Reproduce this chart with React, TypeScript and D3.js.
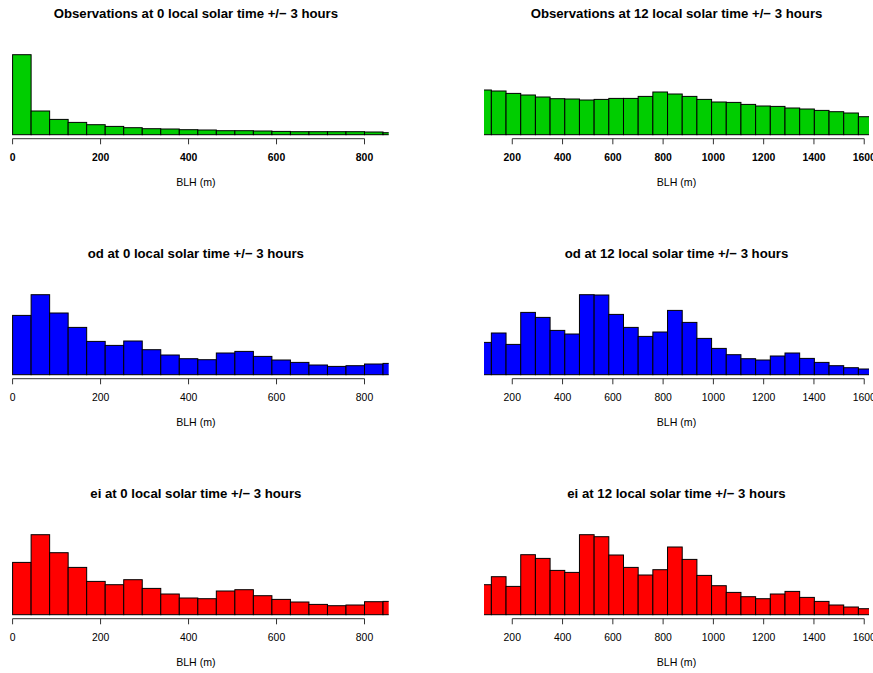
import React from "react";
import * as d3 from "d3";

// Bin layout of the two BLH histograms
const nightBinWidth = 800 / 19;
const noonBinWidth = 58.4;
const noonFirstBin = 1; // index of the first bin shown on the noon panels

const nightTicks = [0, 200, 400, 600, 800];
const noonTicks = [200, 400, 600, 800, 1000, 1200, 1400, 1600];

// Bar heights (relative frequency) per bin
const obsNight = [80, 23.7, 15.3, 12.3, 10, 8.3, 7, 6, 5.7, 5, 4.7, 4, 4, 3.7, 3.3, 3, 3, 3, 3, 2.7, 2];
const obsNoon = [44.7, 43.7, 41.3, 39.7, 37.7, 36, 35.7, 34.7, 35.3, 36.3, 36.3, 38.3, 42.7, 40.7, 38.3, 35.3, 32.7, 32.3, 30.3, 28.7, 28.3, 26.7, 25.7, 24.3, 23, 21.7, 18];
const odNight = [59.3, 80, 61.7, 47.3, 33.3, 29.3, 33.7, 25, 19.7, 16, 15, 21.7, 23.3, 18.3, 14.7, 12.3, 9.7, 8.3, 9, 10.7, 11.3];
const odNoon = [32.3, 41.7, 30.3, 62.3, 57.3, 44.3, 40.7, 80, 79.7, 60.3, 47.3, 38.3, 42.7, 64.3, 52.3, 36.3, 26.3, 20, 16, 14.7, 18.7, 21.7, 16.3, 12.3, 9, 7, 5.7];
const eiNight = [52.3, 80, 62, 47.3, 33.3, 30, 35, 26.3, 20.7, 16.7, 16, 23.7, 25, 19, 15.3, 12.7, 10.3, 9, 9.7, 13, 13.3];
const eiNoon = [30, 38, 28.3, 60, 56.3, 44.3, 42.3, 80, 78, 59.7, 47.3, 39.7, 45, 67.7, 55.3, 39.3, 29, 22.3, 18, 16, 20.7, 23.3, 17.3, 13.3, 9.7, 7.7, 6];

const sources = ["Observations", "od", "ei"];
const sourceColors = ["#00cd00", "#0000ff", "#ff0000"];
const yMax = 80;

type Panel = {
  title: string;
  values: number[];
  binWidth: number;
  firstBin: number;
  ticks: number[];
  domain: [number, number];
  range: [number, number];
  color: string;
  boldTicks: boolean;
};

const FONT = "'Liberation Sans', Arial, Helvetica, sans-serif";

function Histogram({ p, top, id }: { p: Panel; top: number; id: string }) {
  const x = d3.scaleLinear().domain(p.domain).range(p.range);
  const y = d3.scaleLinear().domain([0, yMax]).range([top + 134.7, top + 54.7]);
  const cx = (p.range[0] + p.range[1]) / 2;
  const axisY = top + 138.7;
  return (
    <g>
      <defs>
        <clipPath id={id}>
          <rect x={p.range[0]} y={top} width={p.range[1] - p.range[0]} height={200} />
        </clipPath>
      </defs>
      <text x={cx} y={top + 18.3} textAnchor="middle" fontFamily={FONT} fontWeight="bold" fontSize={13.2}>
        {p.title}
      </text>
      <g clipPath={`url(#${id})`}>
        {p.values.map((v, i) => {
          const x0 = (p.firstBin + i) * p.binWidth;
          const x1 = x0 + p.binWidth;
          return (
            <rect
              key={i}
              x={x(x0)}
              y={y(v)}
              width={x(x1) - x(x0)}
              height={y(0) - y(v)}
              fill={p.color}
              stroke="#000"
              strokeWidth={1}
            />
          );
        })}
      </g>
      <line
        x1={x(p.ticks[0])}
        x2={x(p.ticks[p.ticks.length - 1])}
        y1={axisY}
        y2={axisY}
        stroke="#333"
        strokeWidth={1}
      />
      {p.ticks.map((t) => (
        <g key={t}>
          <line x1={x(t)} x2={x(t)} y1={axisY} y2={axisY + 5.6} stroke="#333" strokeWidth={1} />
          <text
            x={x(t)}
            y={top + 160.6}
            textAnchor="middle"
            fontFamily={FONT}
            fontSize={10.4}
            fontWeight={p.boldTicks ? "bold" : "normal"}
          >
            {t}
          </text>
        </g>
      ))}
      <text x={cx} y={top + 185.5} textAnchor="middle" fontFamily={FONT} fontSize={10.6}>
        BLH (m)
      </text>
    </g>
  );
}

export default function App() {
  const nightSeries = [obsNight, odNight, eiNight];
  const noonSeries = [obsNoon, odNoon, eiNoon];
  const panels: { p: Panel; top: number; id: string }[] = [];
  sources.forEach((s, r) => {
    panels.push({
      id: `clip-n-${r}`,
      top: r * 240,
      p: {
        title: `${s} at 0 local solar time +/\u2212 3 hours`,
        values: nightSeries[r],
        binWidth: nightBinWidth,
        firstBin: 0,
        ticks: nightTicks,
        domain: [-21.8, 855],
        range: [3, 388.7],
        color: sourceColors[r],
        boldTicks: r === 0,
      },
    });
    panels.push({
      id: `clip-d-${r}`,
      top: r * 240,
      p: {
        title: `${s} at 12 local solar time +/\u2212 3 hours`,
        values: noonSeries[r],
        binWidth: noonBinWidth,
        firstBin: noonFirstBin,
        ticks: noonTicks,
        domain: [87.5, 1619],
        range: [484, 869],
        color: sourceColors[r],
        boldTicks: r === 0,
      },
    });
  });
  return (
    <svg
      width={873}
      height={673}
      style={{ position: "absolute", left: 0, top: 0, background: "#fff" }}
    >
      <rect width={873} height={673} fill="#fff" />
      {panels.map((d) => (
        <Histogram key={d.id} p={d.p} top={d.top} id={d.id} />
      ))}
    </svg>
  );
}
